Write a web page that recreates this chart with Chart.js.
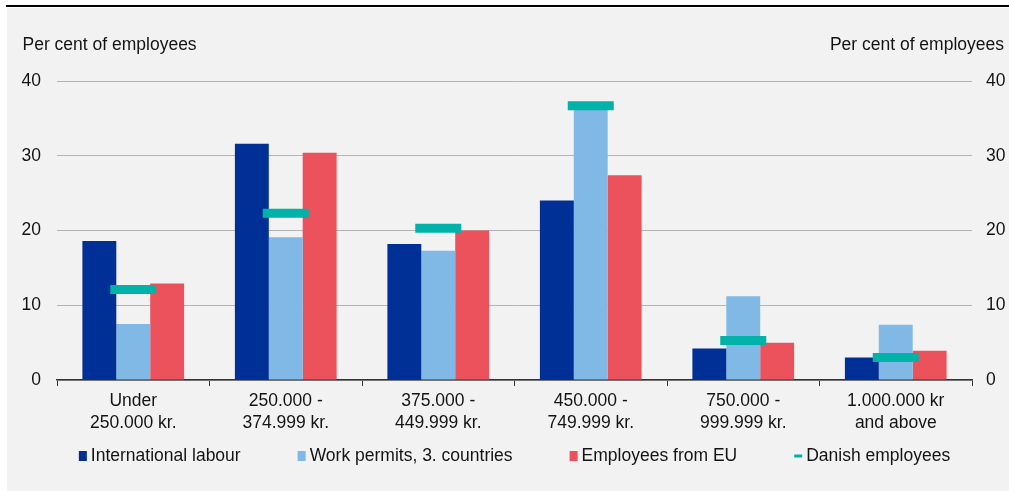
<!DOCTYPE html>
<html>
<head>
<meta charset="utf-8">
<script src="https://cdn.jsdelivr.net/npm/chart.js@4"></script>
<style>
html,body{margin:0;padding:0;background:#ffffff;width:1009px;height:491px;overflow:hidden;}
#topline{position:absolute;left:6px;top:5px;width:1003px;height:2px;background:#000;}
#wrap{position:absolute;left:7px;top:8px;width:1002px;height:483px;background:#f2f2f2;}
</style>
</head>
<body>
<div id="topline"></div>
<div id="wrap"><canvas id="c" width="1002" height="483"></canvas></div>
<script>
const categories = [["Under","250.000 kr."],["250.000 -","374.999 kr."],["375.000 -","449.999 kr."],["450.000 -","749.999 kr."],["750.000 -","999.999 kr."],["1.000.000 kr","and above"]];
const internationalLabour = [18.6, 31.6, 18.2, 24.0, 4.2, 3.0];
const workPermits = [7.5, 19.1, 17.3, 36.2, 11.2, 7.4];
const employeesEU = [12.9, 30.4, 20.0, 27.4, 5.0, 3.9];
const danishEmployees = [12.1, 22.3, 20.3, 36.7, 5.3, 3.0];
const yTicks = [0, 10, 20, 30, 40];
const axisTitle = "Per cent of employees";

const FONT = "'Liberation Sans', Arial, sans-serif";
const FS = 17.5;
const TXT = '#141414';

const titlesAndLegend = {
  id: 'titlesAndLegend',
  afterDraw(chart) {
    const ctx = chart.ctx;
    const area = chart.chartArea;
    ctx.save();
    ctx.font = FS + 'px ' + FONT;
    ctx.fillStyle = TXT;
    ctx.textBaseline = 'middle';
    ctx.textAlign = 'left';
    ctx.fillText(axisTitle, 15.5, area.top - 36);
    ctx.textAlign = 'right';
    ctx.fillText(axisTitle, chart.width - 5, area.top - 36);
    // legend
    const items = chart.data.datasets.map(d => ({text: d.label, color: d.legendColor, line: d.type === 'line'}));
    const boxW = 8, gap = 4, spacing = 57;
    const widths = items.map(it => boxW + gap + ctx.measureText(it.text).width);
    const total = widths.reduce((a, b) => a + b, 0) + spacing * (items.length - 1);
    let x = (area.left + area.right) / 2 - total / 2;
    const y = area.bottom + 76;
    ctx.textAlign = 'left';
    items.forEach((it, i) => {
      ctx.fillStyle = it.color;
      if (it.line) ctx.fillRect(x, y - 1.5, boxW, 3);
      else ctx.fillRect(x, y - 5, boxW, 10);
      ctx.fillStyle = TXT;
      ctx.fillText(it.text, x + boxW + gap, y);
      x += widths[i] + spacing;
    });
    ctx.restore();
  }
};

new Chart(document.getElementById('c'), {
  type: 'bar',
  data: {
    labels: categories,
    datasets: [
      {label: 'International labour', data: internationalLabour, backgroundColor: '#002f96', legendColor: '#002f96', order: 1},
      {label: 'Work permits, 3. countries', data: workPermits, backgroundColor: '#80b9e5', legendColor: '#80b9e5', order: 1},
      {label: 'Employees from EU', data: employeesEU, backgroundColor: '#ec525b', legendColor: '#ec525b', order: 1},
      {label: 'Danish employees', type: 'line', data: danishEmployees, showLine: false, legendColor: '#00b2a8',
       pointStyle: 'line', pointRadius: 23, pointHoverRadius: 23, pointBorderWidth: 9, pointHoverBorderWidth: 9,
       borderColor: '#00b2a8', backgroundColor: '#00b2a8', order: 0}
    ]
  },
  options: {
    responsive: false,
    animation: false,
    events: [],
    datasets: { bar: { categoryPercentage: 0.667, barPercentage: 1.0 } },
    layout: { padding: { top: 73, left: 0, right: 0, bottom: 0 } },
    plugins: { legend: { display: false }, tooltip: { enabled: false } },
    scales: {
      x: {
        grid: { display: true, drawOnChartArea: false, drawTicks: true, tickLength: 6, color: '#333', lineWidth: 1 },
        border: { display: true, color: '#333', width: 1.5 },
        ticks: { font: { family: FONT, size: FS, lineHeight: 1.27 }, color: TXT, padding: 4, maxRotation: 0, autoSkip: false },
        afterFit(s) { s.height = 111; }
      },
      y: {
        position: 'left', min: 0, max: 40,
        afterBuildTicks(s) { s.ticks = yTicks.map(v => ({value: v})); },
        grid: { color: '#b4b4b4', lineWidth: 1, drawTicks: false },
        border: { display: false },
        ticks: { font: { family: FONT, size: FS }, color: TXT, padding: 16 },
        afterFit(s) { s.width = 50; }
      },
      y2: {
        position: 'right', min: 0, max: 40,
        afterBuildTicks(s) { s.ticks = yTicks.map(v => ({value: v})); },
        grid: { display: false, drawTicks: false },
        border: { display: false },
        ticks: { font: { family: FONT, size: FS }, color: TXT, padding: 14 },
        afterFit(s) { s.width = 37; }
      }
    }
  },
  plugins: [titlesAndLegend]
});
</script>
</body>
</html>
